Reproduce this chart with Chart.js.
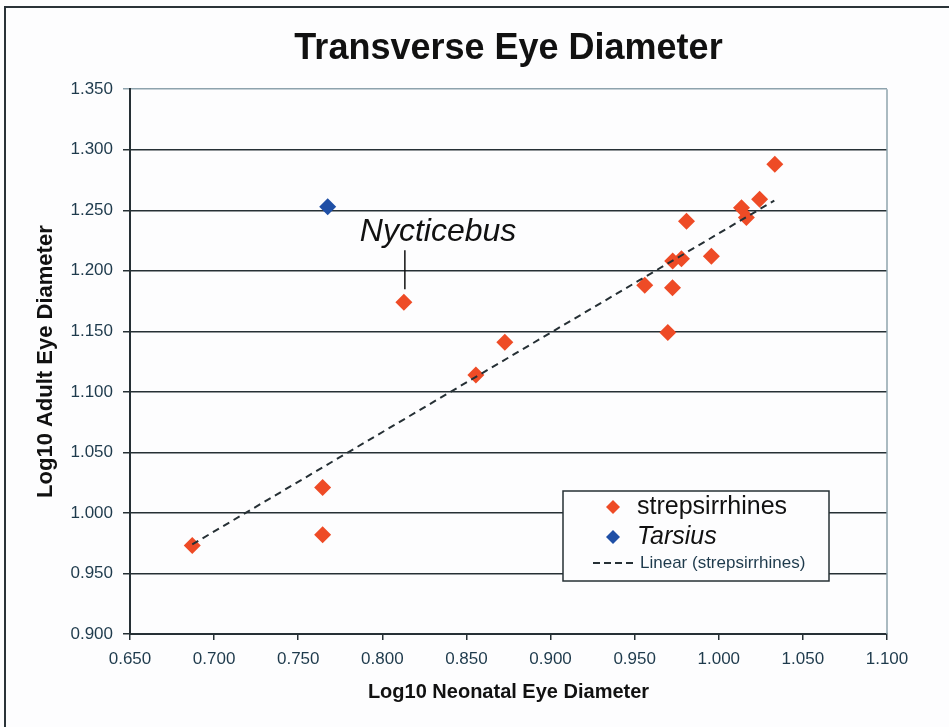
<!DOCTYPE html>
<html>
<head>
<meta charset="utf-8">
<script src="https://cdn.jsdelivr.net/npm/chart.js@4/dist/chart.umd.min.js"></script>
<style>
  html, body { margin: 0; padding: 0; background: #fdfdfe; overflow: hidden; }
  #frame { position: absolute; left: 4px; top: 6px; width: 980px; height: 760px; border: 2px solid #2a3338; pointer-events: none; }
  canvas { position: absolute; left: 0; top: 0; }
</style>
</head>
<body>
<canvas id="eyeChart" width="949" height="727"></canvas>
<div id="frame"></div>
<script>
// strepsirrhines (log10 neonatal vs adult transverse eye diameter)
const strepX = [0.687, 0.7645, 0.7645, 0.8128, 0.8556, 0.8728, 0.956, 0.9697, 0.9725, 0.9726, 0.9778, 0.9808, 0.9956, 1.0135, 1.0164, 1.0243, 1.0333];
const strepY = [0.973, 1.021, 0.982, 1.174, 1.114, 1.141, 1.188, 1.149, 1.186, 1.208, 1.210, 1.241, 1.212, 1.252, 1.244, 1.259, 1.288];
// Tarsius
const tarsX = [0.7675];
const tarsY = [1.253];
// Linear (strepsirrhines) trendline ends
const trendX = [0.687, 1.033];
const trendY = [0.974, 1.258];
// Nycticebus is the 4th strepsirrhine point
const nycIndex = 3;

const xTicks = [0.65, 0.70, 0.75, 0.80, 0.85, 0.90, 0.95, 1.00, 1.05, 1.10];
const yTicks = [0.90, 0.95, 1.00, 1.05, 1.10, 1.15, 1.20, 1.25, 1.30, 1.35];

const FONT = '"Liberation Sans", Arial, sans-serif';
const RED = '#ee4b26';
const BLUE = '#1f4fa6';
const DARK = '#263035';
const PALE = '#8ea3ad';
const TICKCOL = '#1e3a4c';

const toPts = (xs, ys) => xs.map((x, i) => ({ x: x, y: ys[i] }));

const extras = {
    id: 'extras',
    afterDraw(chart) {
        const ctx = chart.ctx;
        const a = chart.chartArea;
        const xs = chart.scales.x, ys = chart.scales.y;
        ctx.save();
        // right edge of plot area
        ctx.strokeStyle = PALE;
        ctx.lineWidth = 1.5;
        ctx.beginPath();
        ctx.moveTo(a.right, a.top);
        ctx.lineTo(a.right, a.bottom);
        ctx.stroke();

        // Nycticebus label
        const px = xs.getPixelForValue(strepX[nycIndex]);
        const py = ys.getPixelForValue(strepY[nycIndex]);
        ctx.strokeStyle = '#111';
        ctx.lineWidth = 1.5;
        ctx.beginPath();
        ctx.moveTo(px + 1, py - 52);
        ctx.lineTo(px + 1, py - 13);
        ctx.stroke();
        ctx.fillStyle = '#111';
        ctx.font = 'italic 32px ' + FONT;
        ctx.textAlign = 'left';
        ctx.textBaseline = 'alphabetic';
        ctx.fillText('Nycticebus', px - 44, py - 61);

        // legend box
        const L = 563, T = 491, W = 266, H = 90;
        ctx.fillStyle = '#fdfdfe';
        ctx.fillRect(L, T, W, H);
        ctx.strokeStyle = DARK;
        ctx.lineWidth = 1.5;
        ctx.strokeRect(L, T, W, H);

        const diamond = (cx, cy, r, col) => {
            ctx.fillStyle = col;
            ctx.beginPath();
            ctx.moveTo(cx, cy - r);
            ctx.lineTo(cx + r, cy);
            ctx.lineTo(cx, cy + r);
            ctx.lineTo(cx - r, cy);
            ctx.closePath();
            ctx.fill();
        };
        diamond(613, 507, 7, RED);
        diamond(613, 537, 7, BLUE);
        ctx.fillStyle = '#111';
        ctx.textBaseline = 'middle';
        ctx.font = '25px ' + FONT;
        ctx.fillText('strepsirrhines', 637, 507);
        ctx.font = 'italic 25px ' + FONT;
        ctx.fillText('Tarsius', 637, 537);

        ctx.strokeStyle = DARK;
        ctx.lineWidth = 2;
        ctx.setLineDash([7, 4]);
        ctx.beginPath();
        ctx.moveTo(593, 563);
        ctx.lineTo(636, 563);
        ctx.stroke();
        ctx.setLineDash([]);
        ctx.fillStyle = TICKCOL;
        ctx.font = '17px ' + FONT;
        ctx.fillText('Linear (strepsirrhines)', 640, 563);
        ctx.restore();
    }
};

new Chart(document.getElementById('eyeChart').getContext('2d'), {
    type: 'scatter',
    data: {
        datasets: [{
            label: 'Linear (strepsirrhines)',
            type: 'line',
            data: toPts(trendX, trendY),
            borderColor: DARK,
            borderWidth: 2,
            borderDash: [7, 5],
            pointRadius: 0,
            fill: false,
            order: 0
        }, {
            label: 'strepsirrhines',
            data: toPts(strepX, strepY),
            pointStyle: 'rectRot',
            pointRadius: 8.5,
            backgroundColor: RED,
            borderColor: RED,
            borderWidth: 0,
            order: 1
        }, {
            label: 'Tarsius',
            data: toPts(tarsX, tarsY),
            pointStyle: 'rectRot',
            pointRadius: 8.5,
            backgroundColor: BLUE,
            borderColor: BLUE,
            borderWidth: 0,
            order: 2
        }]
    },
    options: {
        responsive: false,
        animation: false,
        layout: { padding: { left: 0, right: 62, top: 0, bottom: 0 } },
        plugins: {
            legend: { display: false },
            tooltip: { enabled: false },
            title: {
                display: true,
                text: 'Transverse Eye Diameter',
                fullSize: false,
                color: '#111',
                font: { family: FONT, size: 36, weight: 'bold' },
                padding: { top: 27, bottom: 19 }
            }
        },
        scales: {
            x: {
                type: 'linear',
                min: 0.65,
                max: 1.10,
                afterBuildTicks: s => { s.ticks = xTicks.map(v => ({ value: v })); },
                afterFit: s => { s.height = 93; },
                ticks: {
                    callback: v => v.toFixed(3),
                    color: TICKCOL,
                    font: { family: FONT, size: 17 },
                    padding: 9,
                    maxRotation: 0
                },
                grid: { drawOnChartArea: false, drawTicks: true, tickLength: 6, color: DARK, lineWidth: 1.5 },
                border: { color: DARK, width: 2 },
                title: {
                    display: true,
                    text: 'Log10 Neonatal Eye Diameter',
                    color: '#111',
                    font: { family: FONT, size: 20, weight: 'bold' },
                    padding: { top: 0, bottom: 23 }
                }
            },
            y: {
                type: 'linear',
                min: 0.90,
                max: 1.35,
                afterBuildTicks: s => { s.ticks = yTicks.map(v => ({ value: v })); },
                afterFit: s => { s.width = 130; },
                ticks: {
                    callback: v => v.toFixed(3),
                    color: TICKCOL,
                    font: { family: FONT, size: 17 },
                    padding: 10
                },
                grid: {
                    drawTicks: true,
                    tickLength: 7,
                    color: c => (c.tick && c.tick.value > 1.34) ? PALE : DARK,
                    lineWidth: 1.5
                },
                border: { color: DARK, width: 2 },
                title: {
                    display: true,
                    text: 'Log10 Adult Eye Diameter',
                    color: '#111',
                    font: { family: FONT, size: 22, weight: 'bold' },
                    padding: { top: 33, bottom: 0 }
                }
            }
        }
    },
    plugins: [extras]
});
</script>
</body>
</html>
